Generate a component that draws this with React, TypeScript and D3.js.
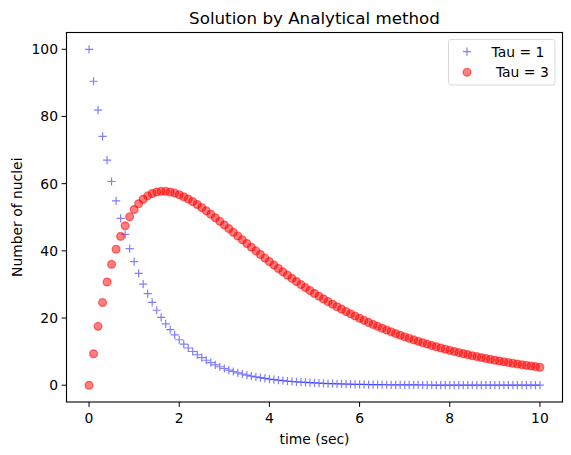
import React from "react";
import * as d3 from "d3";

const times = [
  0, 0.1, 0.2, 0.3, 0.4, 0.5, 0.6, 0.7, 0.8, 0.9,
  1, 1.1, 1.2, 1.3, 1.4, 1.5, 1.6, 1.7, 1.8, 1.9,
  2, 2.1, 2.2, 2.3, 2.4, 2.5, 2.6, 2.7, 2.8, 2.9,
  3, 3.1, 3.2, 3.3, 3.4, 3.5, 3.6, 3.7, 3.8, 3.9,
  4, 4.1, 4.2, 4.3, 4.4, 4.5, 4.6, 4.7, 4.8, 4.9,
  5, 5.1, 5.2, 5.3, 5.4, 5.5, 5.6, 5.7, 5.8, 5.9,
  6, 6.1, 6.2, 6.3, 6.4, 6.5, 6.6, 6.7, 6.8, 6.9,
  7, 7.1, 7.2, 7.3, 7.4, 7.5, 7.6, 7.7, 7.8, 7.9,
  8, 8.1, 8.2, 8.3, 8.4, 8.5, 8.6, 8.7, 8.8, 8.9,
  9, 9.1, 9.2, 9.3, 9.4, 9.5, 9.6, 9.7, 9.8, 9.9,
  10,
];

const tau1 = [
  100, 90.48, 81.87, 74.08, 67.03, 60.65, 54.88, 49.66, 44.93, 40.66,
  36.79, 33.29, 30.12, 27.25, 24.66, 22.31, 20.19, 18.27, 16.53, 14.96,
  13.53, 12.25, 11.08, 10.03, 9.07, 8.21, 7.43, 6.72, 6.08, 5.5,
  4.98, 4.5, 4.08, 3.69, 3.34, 3.02, 2.73, 2.47, 2.24, 2.02,
  1.83, 1.66, 1.5, 1.36, 1.23, 1.11, 1.01, 0.91, 0.82, 0.74,
  0.67, 0.61, 0.55, 0.5, 0.45, 0.41, 0.37, 0.33, 0.3, 0.27,
  0.25, 0.22, 0.2, 0.18, 0.17, 0.15, 0.14, 0.12, 0.11, 0.1,
  0.09, 0.08, 0.07, 0.07, 0.06, 0.06, 0.05, 0.05, 0.04, 0.04,
  0.03, 0.03, 0.03, 0.02, 0.02, 0.02, 0.02, 0.02, 0.02, 0.01,
  0.01, 0.01, 0.01, 0.01, 0.01, 0.01, 0.01, 0.01, 0.01, 0.01,
  0.0,
];

const tau3 = [
  0, 9.36, 17.52, 24.6, 30.73, 35.99, 40.49, 44.3, 47.49, 50.14,
  52.3, 54.03, 55.37, 56.37, 57.07, 57.51, 57.71, 57.71, 57.53, 57.19,
  56.71, 56.12, 55.43, 54.65, 53.79, 52.88, 51.91, 50.9, 49.86, 48.8,
  47.71, 46.62, 45.51, 44.4, 43.29, 42.18, 41.08, 39.99, 38.91, 37.84,
  36.79, 35.76, 34.74, 33.74, 32.76, 31.8, 30.87, 29.95, 29.05, 28.17,
  27.32, 26.49, 25.68, 24.89, 24.12, 23.37, 22.64, 21.93, 21.25, 20.58,
  19.93, 19.3, 18.69, 18.09, 17.52, 16.96, 16.42, 15.89, 15.38, 14.89,
  14.41, 13.95, 13.5, 13.06, 12.64, 12.23, 11.84, 11.45, 11.08, 10.72,
  10.37, 10.04, 9.71, 9.39, 9.09, 8.79, 8.51, 8.23, 7.96, 7.7,
  7.45, 7.21, 6.97, 6.74, 6.52, 6.31, 6.1, 5.91, 5.71, 5.53,
  5.34,
];

const xTicks = [0, 2, 4, 6, 8, 10];
const yTicks = [0, 20, 40, 60, 80, 100];
const legendLabels = ["Tau = 1", " Tau = 3"];
const title = "Solution by Analytical method";
const xLabel = "time (sec)";
const yLabel = "Number of nuclei";

const W = 571;
const H = 455;
const L = 66.5;
const R = 562.5;
const T = 32.5;
const B = 402;
const FONT = "'DejaVu Sans', sans-serif";
const FS = 13.9;

export default function App() {
  const x = d3.scaleLinear().domain([-0.5, 10.5]).range([L, R]);
  const y = d3.scaleLinear().domain([-5, 105]).range([B, T]);
  const blue = "rgba(0,0,255,0.5)";
  const red = "rgba(255,0,0,0.5)";
  const plus = (cx: number, cy: number, k: string | number) => (
    <path
      key={k}
      d={`M${cx - 4.1},${cy}H${cx + 4.1}M${cx},${cy - 4.1}V${cy + 4.1}`}
      stroke={blue}
      strokeWidth={1.2}
      fill="none"
    />
  );
  const circ = (cx: number, cy: number, k: string | number) => (
    <circle key={k} cx={cx} cy={cy} r={3.9} fill={red} stroke={red} strokeWidth={1.3} />
  );
  return (
    <svg width={W} height={H} style={{ display: "block", position: "absolute", left: 0, top: 0 }} fontFamily={FONT}>
      <rect width={W} height={H} fill="white" />
      <text x={(L + R) / 2} y={24} textAnchor="middle" fontSize={16.7} fill="#000">{title}</text>
      {tau1.map((v, i) => plus(x(times[i]), y(v), "b" + i))}
      {tau3.map((v, i) => circ(x(times[i]), y(v), "r" + i))}
      <rect x={L} y={T} width={R - L} height={B - T} fill="none" stroke="#000" strokeWidth={1.1} />
      {xTicks.map((t) => (
        <g key={"xt" + t}>
          <line x1={x(t)} x2={x(t)} y1={B} y2={B + 4.9} stroke="#000" strokeWidth={1} />
          <text x={x(t)} y={423} textAnchor="middle" fontSize={FS} fill="#000">{t}</text>
        </g>
      ))}
      {yTicks.map((t) => (
        <g key={"yt" + t}>
          <line x1={L - 4.9} x2={L} y1={y(t)} y2={y(t)} stroke="#000" strokeWidth={1} />
          <text x={L - 8.5} y={y(t)} dy="0.36em" textAnchor="end" fontSize={FS} fill="#000">{t}</text>
        </g>
      ))}
      <text x={(L + R) / 2} y={443.5} textAnchor="middle" fontSize={FS} fill="#000">{xLabel}</text>
      <text transform={`translate(21.5,${(T + B) / 2}) rotate(-90)`} textAnchor="middle" fontSize={FS} fill="#000">{yLabel}</text>
      <g>
        <rect x={448.5} y={39.5} width={106.5} height={45.5} rx={2.5} fill="rgba(255,255,255,0.8)" stroke="#d9d9d9" strokeWidth={1} />
        {plus(467, 51.7, "lg1")}
        {circ(467, 72.3, "lg2")}
        <text x={491.5} y={51.7} dy="0.36em" fontSize={FS} fill="#000" style={{ whiteSpace: "pre" }}>{legendLabels[0]}</text>
        <text x={491.5} y={72.3} dy="0.36em" fontSize={FS} fill="#000" style={{ whiteSpace: "pre" }}>{legendLabels[1]}</text>
      </g>
    </svg>
  );
}
